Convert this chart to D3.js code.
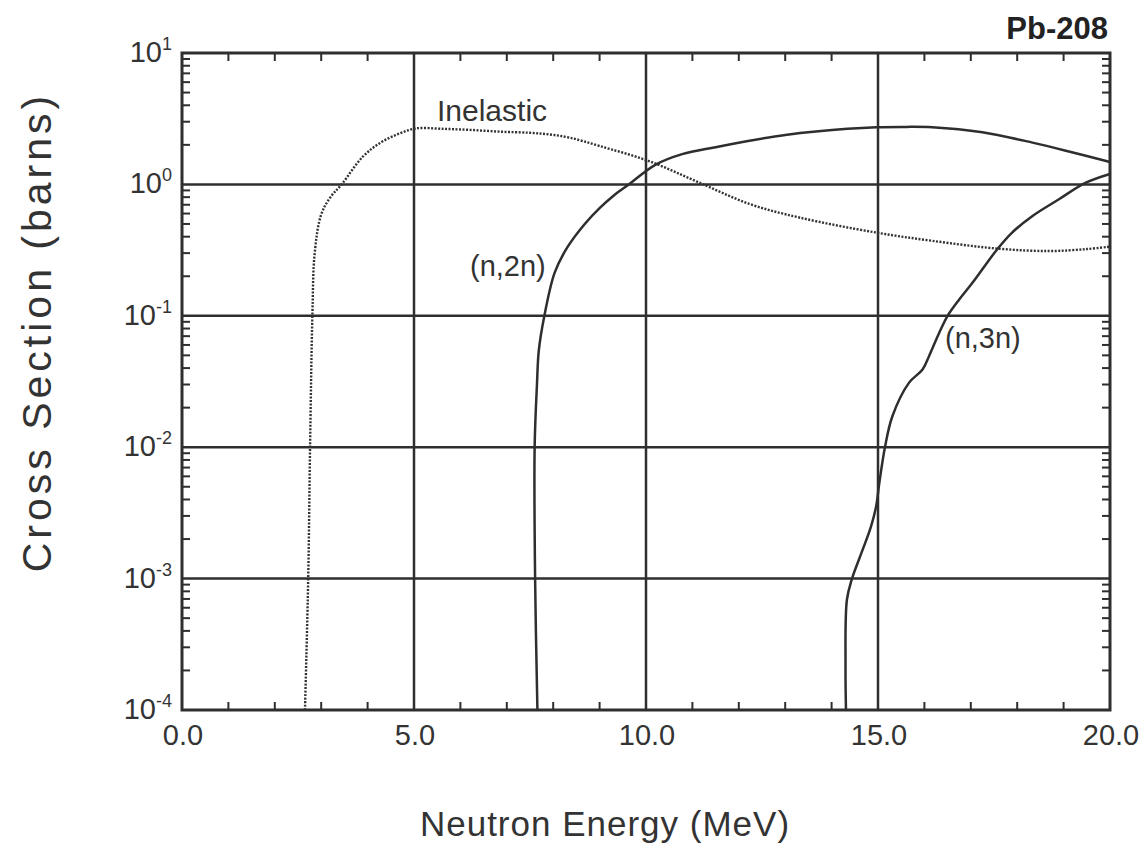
<!DOCTYPE html>
<html>
<head>
<meta charset="utf-8">
<script src="https://cdn.jsdelivr.net/npm/d3@7"></script>
<style>
  html, body { margin: 0; padding: 0; background: #fff; }
  svg { display: block; font-family: "Liberation Sans", Arial, Helvetica, sans-serif; }
</style>
</head>
<body>
<svg id="chart" width="1148" height="860"></svg>
<script>
// ---------- data ----------
const title = "Pb-208";
const xTickValues = [0, 5, 10, 15, 20];
const xTickLabels = ["0.0", "5.0", "10.0", "15.0", "20.0"];
const yDecades = [-4, -3, -2, -1, 0, 1];
const yTickLabels = ["-4", "-3", "-2", "-1", "0", "1"];

const inelasticE  = [2.65, 2.72, 2.76, 2.81, 2.86, 3.0, 3.2, 3.44, 3.9, 4.3, 4.69, 5.05, 5.6, 6.2, 6.85, 7.5, 7.92, 8.35, 9.0, 10.05, 11.1, 12.23, 13.3, 14.96, 16.17, 17.6, 18.69, 19.5, 20.0];
const inelasticXS = [1e-4, 1e-3, 1e-2, 0.1, 0.30, 0.59, 0.80, 1.0, 1.63, 2.1, 2.44, 2.67, 2.65, 2.60, 2.52, 2.47, 2.40, 2.27, 1.96, 1.51, 1.05, 0.71, 0.56, 0.43, 0.372, 0.324, 0.311, 0.322, 0.336];

const n2nE  = [7.66, 7.61, 7.60, 7.65, 7.69, 7.81, 8.03, 8.3, 8.68, 9.0, 9.3, 9.63, 10.2, 10.78, 11.5, 12.23, 13.0, 13.66, 14.96, 15.6, 16.17, 17.25, 18.33, 19.2, 20.0];
const n2nXS = [1e-4, 1e-3, 1e-2, 0.03, 0.0545, 0.1, 0.212, 0.33, 0.50, 0.66, 0.82, 1.0, 1.41, 1.70, 1.92, 2.15, 2.38, 2.53, 2.72, 2.74, 2.72, 2.49, 2.08, 1.75, 1.48];

const n3nE  = [14.31, 14.30, 14.33, 14.44, 14.67, 14.85, 14.96, 15.03, 15.15, 15.31, 15.67, 15.96, 16.10, 16.32, 16.50, 16.75, 17.04, 17.57, 17.89, 18.33, 18.9, 19.48, 20.0];
const n3nXS = [1e-4, 2.14e-4, 6.9e-4, 1e-3, 1.66e-3, 2.5e-3, 3.55e-3, 5.4e-3, 1e-2, 1.72e-2, 3.1e-2, 3.9e-2, 4.93e-2, 7.43e-2, 0.1, 0.133, 0.179, 0.321, 0.43, 0.575, 0.771, 1.03, 1.20];

const seriesLabels = ["Inelastic", "(n,2n)", "(n,3n)"];
const xTitle = "Neutron Energy (MeV)";
const yTitle = "Cross Section (barns)";

// ---------- layout ----------
const L = 182, R = 1110, T = 53, B = 710;
const ink = "#2e2e2e";
const svg = d3.select("#chart");

const x = d3.scaleLinear().domain([0, 20]).range([L, R]);
const y = d3.scaleLog().domain([1e-4, 10]).range([B, T]);

// minor x ticks (every 1 MeV) top and bottom, inside
const minorX = d3.range(1, 20).filter(v => v % 5 !== 0);
const g = svg.append("g");
g.selectAll(".mxb").data(minorX).join("line")
  .attr("x1", d => x(d)).attr("x2", d => x(d))
  .attr("y1", B).attr("y2", B - 8)
  .attr("stroke", ink).attr("stroke-width", 2);
g.selectAll(".mxt").data(minorX).join("line")
  .attr("x1", d => x(d)).attr("x2", d => x(d))
  .attr("y1", T).attr("y2", T + 8)
  .attr("stroke", ink).attr("stroke-width", 2);

// minor y ticks (log 2..9) left and right, inside
const minorY = [];
for (let e = -4; e < 1; e++) for (let k = 2; k <= 9; k++) minorY.push(k * Math.pow(10, e));
g.selectAll(".myl").data(minorY).join("line")
  .attr("x1", L).attr("x2", L + 8)
  .attr("y1", d => y(d)).attr("y2", d => y(d))
  .attr("stroke", ink).attr("stroke-width", 2);
g.selectAll(".myr").data(minorY).join("line")
  .attr("x1", R).attr("x2", R - 8)
  .attr("y1", d => y(d)).attr("y2", d => y(d))
  .attr("stroke", ink).attr("stroke-width", 2);

// grid lines at majors
g.selectAll(".gx").data(xTickValues.slice(1, -1)).join("line")
  .attr("x1", d => x(d)).attr("x2", d => x(d))
  .attr("y1", T).attr("y2", B)
  .attr("stroke", ink).attr("stroke-width", 2.5);
g.selectAll(".gy").data(yDecades.slice(1, -1)).join("line")
  .attr("x1", L).attr("x2", R)
  .attr("y1", d => y(Math.pow(10, d))).attr("y2", d => y(Math.pow(10, d)))
  .attr("stroke", ink).attr("stroke-width", 2.5);

// curves
const line = d3.line().x(d => x(d[0])).y(d => y(d[1])).curve(d3.curveCatmullRom.alpha(0.5));
const zip = (a, b) => a.map((v, i) => [v, b[i]]);

svg.append("path").datum(zip(inelasticE, inelasticXS))
  .attr("d", line).attr("fill", "none").attr("stroke", "#333")
  .attr("stroke-width", 2.4).attr("stroke-dasharray", "2,1.5");
svg.append("path").datum(zip(n2nE, n2nXS))
  .attr("d", line).attr("fill", "none").attr("stroke", ink).attr("stroke-width", 2.5);
svg.append("path").datum(zip(n3nE, n3nXS))
  .attr("d", line).attr("fill", "none").attr("stroke", ink).attr("stroke-width", 2.5);

// frame
svg.append("rect").attr("x", L).attr("y", T).attr("width", R - L).attr("height", B - T)
  .attr("fill", "none").attr("stroke", ink).attr("stroke-width", 3);

// x tick labels
svg.selectAll(".xl").data(xTickValues).join("text")
  .attr("x", d => x(d) + 1).attr("y", 745)
  .attr("text-anchor", "middle").attr("font-size", 29).attr("fill", "#333")
  .text((d, i) => xTickLabels[i]);

// y tick labels 10^n
yDecades.forEach((d, i) => {
  const t = svg.append("text")
    .attr("x", 172).attr("y", y(Math.pow(10, d)) + 9)
    .attr("text-anchor", "end").attr("font-size", 29).attr("fill", "#333");
  t.append("tspan").text("10");
  t.append("tspan").attr("font-size", 18).attr("dy", -12).text(yTickLabels[i]);
});

// title
svg.append("text").attr("x", 1108).attr("y", 39).attr("text-anchor", "end")
  .attr("font-size", 31).attr("font-weight", "bold").attr("fill", "#222").text(title);

// series labels
svg.append("text").attr("x", 437).attr("y", 121).attr("font-size", 30).attr("fill", "#333").text(seriesLabels[0]);
svg.append("text").attr("x", 470).attr("y", 276).attr("font-size", 29).attr("fill", "#333").text(seriesLabels[1]);
svg.append("text").attr("x", 945).attr("y", 348).attr("font-size", 29).attr("fill", "#333").text(seriesLabels[2]);

// axis titles
svg.append("text").attr("x", 605).attr("y", 836).attr("text-anchor", "middle")
  .attr("font-size", 35).attr("letter-spacing", 1).attr("fill", "#333").text(xTitle);
svg.append("text").attr("transform", "translate(51,332) rotate(-90)").attr("text-anchor", "middle")
  .attr("font-size", 41).attr("letter-spacing", 4).attr("fill", "#333").text(yTitle);
</script>
</body>
</html>
